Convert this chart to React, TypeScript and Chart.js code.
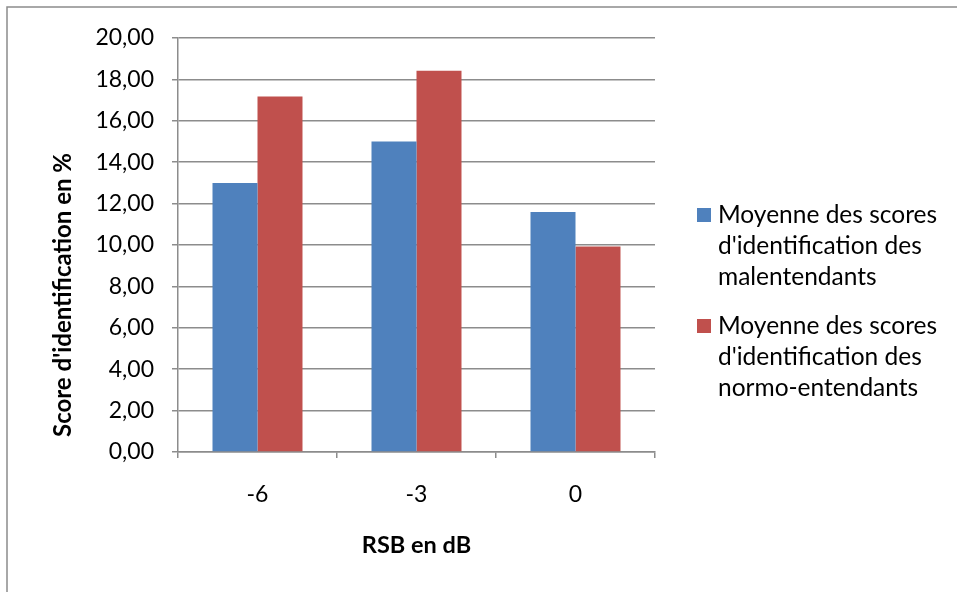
import React, { useEffect, useRef } from 'react';
import { Chart, registerables } from 'chart.js';

Chart.register(...registerables);

const categories = ['-6', '-3', '0'];
const malentendants = [13.0, 15.0, 11.6];
const normoEntendants = [17.17, 18.42, 9.93];
const legendLines = [
  ['Moyenne des scores', "d'identification des", 'malentendants'],
  ['Moyenne des scores', "d'identification des", 'normo-entendants'],
];
const seriesNames = ['Moyenne des scores d\'identification des malentendants', 'Moyenne des scores d\'identification des normo-entendants'];
const yTitle = "Score d'identification en %";
const xTitle = 'RSB en dB';
const seriesColors = ['#4F81BD', '#C0504D'];
const gridColor = '#8C8C8C';

const decor = {
  id: 'decor',
  beforeDraw(chart: any) {
    const ctx = chart.ctx;
    ctx.save();
    ctx.fillStyle = '#ffffff';
    ctx.fillRect(0, 0, chart.width, chart.height);
    ctx.strokeStyle = '#8C8C8C';
    ctx.lineWidth = 1.5;
    ctx.strokeRect(7, 7, chart.width + 20, chart.height + 20);
    ctx.restore();
  },
  afterDraw(chart: any) {
    const ctx = chart.ctx;
    ctx.save();
    ctx.fillStyle = '#000';
    ctx.font = 'bold 24px Lato';
    ctx.textAlign = 'center';
    ctx.textBaseline = 'middle';
    ctx.translate(63, 295);
    ctx.rotate(-Math.PI / 2);
    ctx.fillText(yTitle, 0, 0);
    ctx.restore();

    ctx.save();
    ctx.font = '24.5px Lato';
    ctx.textBaseline = 'middle';
    ctx.textAlign = 'left';
    const groupTops = [215, 326];
    legendLines.forEach((lines, i) => {
      const y0 = groupTops[i];
      ctx.fillStyle = seriesColors[i];
      ctx.fillRect(697, y0 - 7, 14, 14);
      ctx.fillStyle = '#000';
      lines.forEach((t, j) => ctx.fillText(t, 718, y0 + j * 31));
    });
    ctx.restore();
  },
};

export default function App() {
  const ref = useRef<HTMLCanvasElement>(null);
  useEffect(() => {
    if (!ref.current) return;
    Chart.defaults.font.family = 'Lato';
    Chart.defaults.color = '#000';
    const chart = new Chart(ref.current, {
      type: 'bar',
      data: {
        labels: categories,
        datasets: [
          { label: seriesNames[0], data: malentendants, backgroundColor: seriesColors[0], borderWidth: 0 },
          { label: seriesNames[1], data: normoEntendants, backgroundColor: seriesColors[1], borderWidth: 0 },
        ],
      },
      options: {
        animation: false,
        responsive: false,
        maintainAspectRatio: false,
        events: [],
        layout: { padding: { left: 0, top: 38, right: 302, bottom: 0 } },
        plugins: {
          legend: { display: false },
          tooltip: { enabled: false },
        },
        datasets: { bar: { categoryPercentage: 0.566, barPercentage: 1 } },
        scales: {
          x: {
            grid: { display: true, drawOnChartArea: false, drawTicks: true, tickLength: 6, offset: true, color: gridColor, lineWidth: 1.5 },
            border: { display: true, color: gridColor, width: 1.5 },
            ticks: { font: { size: 23 }, padding: 23, color: '#000' },
            title: { display: true, text: xTitle, font: { size: 23.5, weight: 'bold' }, padding: { top: 0, bottom: 32 }, color: '#000' },
            afterFit: (s: any) => { s.height = 140; },
          },
          y: {
            min: 0,
            max: 20,
            ticks: {
              stepSize: 2,
              font: { size: 23 },
              padding: 18,
              color: '#000',
              callback: (v: any) => Number(v).toFixed(2).replace('.', ','),
            },
            grid: { color: gridColor, lineWidth: 1.5, tickLength: 6, drawTicks: true },
            border: { display: true, color: gridColor, width: 1.5 },
            afterFit: (s: any) => { s.width = 178; },
          },
        },
      },
      plugins: [decor],
    });
    return () => chart.destroy();
  }, []);
  return (
    <div style={{ position: 'absolute', left: 0, top: 0, width: 957, height: 592 }}>
      <canvas ref={ref} width={957} height={592} style={{ width: 957, height: 592, display: 'block' }} />
    </div>
  );
}
